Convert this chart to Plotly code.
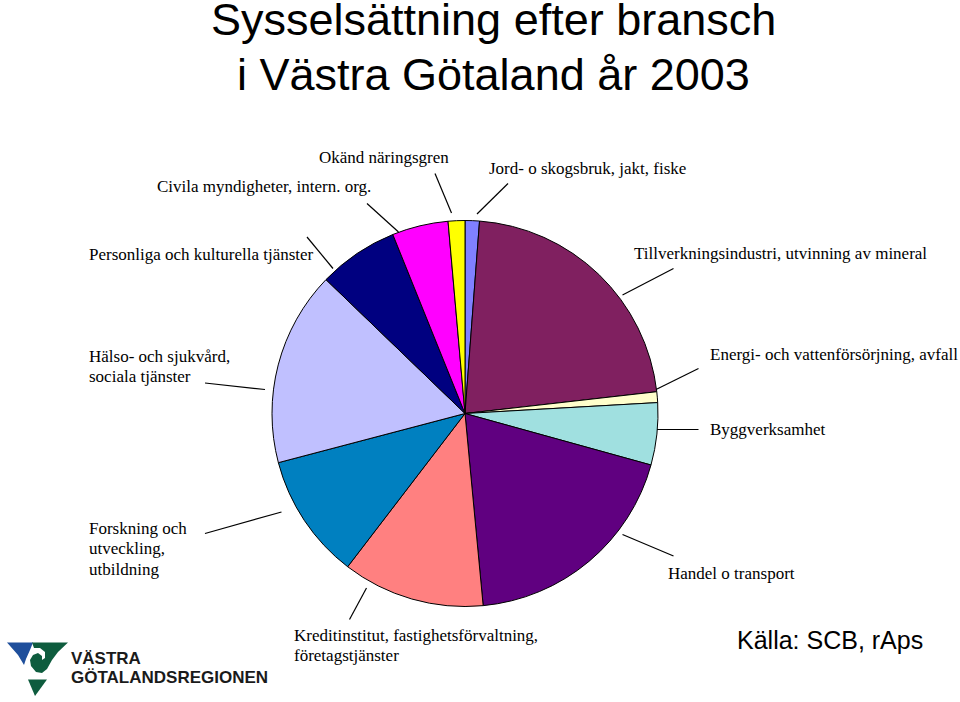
import plotly.graph_objects as go

# ---------------- data ----------------
categories = [
    "Jord- o skogsbruk, jakt, fiske",
    "Tillverkningsindustri, utvinning av mineral",
    "Energi- och vattenförsörjning, avfall",
    "Byggverksamhet",
    "Handel o transport",
    "Kreditinstitut, fastighetsförvaltning, företagstjänster",
    "Forskning och utveckling, utbildning",
    "Hälso- och sjukvård, sociala tjänster",
    "Personliga och kulturella tjänster",
    "Civila myndigheter, intern. org.",
    "Okänd näringsgren",
]
shares = [1.2, 22.0, 0.9, 5.2, 19.2, 11.9, 10.5, 16.3, 6.7, 4.7, 1.4]

# label text as drawn (line breaks as in the reference)
label_lines = [
    ["Jord- o skogsbruk, jakt, fiske"],
    ["Tillverkningsindustri, utvinning av mineral"],
    ["Energi- och vattenförsörjning, avfall"],
    ["Byggverksamhet"],
    ["Handel o transport"],
    ["Kreditinstitut, fastighetsförvaltning,", "företagstjänster"],
    ["Forskning och", "utveckling,", "utbildning"],
    ["Hälso- och sjukvård,", "sociala tjänster"],
    ["Personliga och kulturella tjänster"],
    ["Civila myndigheter, intern. org."],
    ["Okänd näringsgren"],
]
title_lines = ["Sysselsättning efter bransch", "i Västra Götaland år 2003"]
source_text = "Källa: SCB, rAps"
logo_lines = ["VÄSTRA", "GÖTALANDSREGIONEN"]

# ---------------- styles / layout ----------------
W, H = 960, 702
colors = ["#8080FF", "#802060", "#FFFFCC", "#A0E0E0", "#600080", "#FF8080",
          "#0080C0", "#C0C0FF", "#000080", "#FF00FF", "#FFFF00"]

def px(x, y):
    return x / W, 1 - y / H

# pie placement (pixels)
cx, cy, r = 465, 413.5, 193

# label anchors: (x_left, y_center_first_line) in pixels
label_pos = [
    (487, 169), (632, 253.5), (708, 354), (708, 429.5), (666, 573),
    (292, 635), (87, 528), (87, 356), (87, 254), (155, 187), (317, 158),
]
line_step = 20.5
# leader lines (outer, inner) in pixels
leaders = [
    ((508, 183.5), (477, 214)),
    ((673.5, 268.5), (622.5, 295)),
    ((698.5, 368.5), (656, 389.5)),
    ((698.5, 429.5), (657, 429.5)),
    ((673.5, 556), (622.5, 534.5)),
    ((349.5, 619.5), (366.5, 588)),
    ((205, 533.5), (281.5, 512)),
    ((205, 383), (265, 389.5)),
    ((307, 237), (333, 268.5)),
    ((367, 203.5), (398.5, 232)),
    ((435, 173.5), (451.5, 213)),
]

fig = go.Figure()
x0, y1 = px(cx - r, cy - r)
x1, y0 = px(cx + r, cy + r)
fig.add_trace(go.Pie(
    labels=categories, values=shares, sort=False, direction="clockwise",
    rotation=0, textinfo="none", hoverinfo="label+percent",
    marker=dict(colors=colors, line=dict(color="black", width=1)),
    domain=dict(x=[x0, x1], y=[y0, y1]), showlegend=False,
))

annotations = []
shapes = []
label_font = dict(family="Liberation Serif, Times New Roman, serif", size=17, color="black")
for lines, (lx, ly) in zip(label_lines, label_pos):
    for i, t in enumerate(lines):
        ax_, ay_ = px(lx, ly + i * line_step)
        annotations.append(dict(x=ax_, y=ay_, xref="paper", yref="paper", text=t,
                                showarrow=False, xanchor="left", yanchor="middle",
                                font=label_font))
for (p1, p2) in leaders:
    a = px(*p1); b = px(*p2)
    shapes.append(dict(type="line", xref="paper", yref="paper",
                       x0=a[0], y0=a[1], x1=b[0], y1=b[1],
                       line=dict(color="black", width=1.2)))

# title
for i, t in enumerate(title_lines):
    tx, ty = px(494, 19.5 + i * 55)
    annotations.append(dict(x=tx, y=ty, xref="paper", yref="paper", text=t, showarrow=False,
                            xanchor="center", yanchor="middle",
                            font=dict(family="Liberation Sans, Arial, sans-serif", size=45, color="black")))
# source
sx, sy = px(735, 640)
annotations.append(dict(x=sx, y=sy, xref="paper", yref="paper", text=source_text, showarrow=False,
                        xanchor="left", yanchor="middle",
                        font=dict(family="Liberation Sans, Arial, sans-serif", size=25, color="black")))
# logo text
for i, t in enumerate(logo_lines):
    lx_, ly_ = px(69, 658.5 + i * 18.5)
    annotations.append(dict(x=lx_, y=ly_, xref="paper", yref="paper", text="<b>" + t + "</b>",
                            showarrow=False, xanchor="left", yanchor="middle",
                            font=dict(family="Liberation Sans, Arial, sans-serif", size=17, color="#1a1a1a")))

def path(pts, close=True):
    s = ""
    for k, (x, y) in enumerate(pts):
        X, Y = px(x, y)
        s += ("M" if k == 0 else "L") + f"{X:.5f},{Y:.5f} "
    return s + ("Z" if close else "")

logo_blue = [(7, 642.5), (33, 642.5), (30, 650), (26, 659), (24, 665), (18, 655)]
logo_green = [(32, 642.5), (68, 642.5), (58, 652), (52, 660), (47, 669), (42, 673),
              (36, 672), (31, 666), (30, 660), (33, 655), (38, 653), (42, 656), (42, 660),
              (45, 658), (45, 652), (40, 648), (34, 648)]
logo_green2 = [(28, 679.5), (47, 679.5), (35, 696)]
for pts, c in [(logo_blue, "#1F4F9C"), (logo_green, "#0E5C3E"), (logo_green2, "#0E5C3E")]:
    shapes.append(dict(type="path", xref="paper", yref="paper", path=path(pts),
                       fillcolor=c, line=dict(width=0)))

fig.update_layout(
    width=W, height=H, margin=dict(l=0, r=0, t=0, b=0),
    paper_bgcolor="white", plot_bgcolor="white",
    annotations=annotations, shapes=shapes,
)
fig.write_html("out.html", config={"displayModeBar": False},
               post_script="document.body.style.margin='0';document.body.style.padding='0';")
